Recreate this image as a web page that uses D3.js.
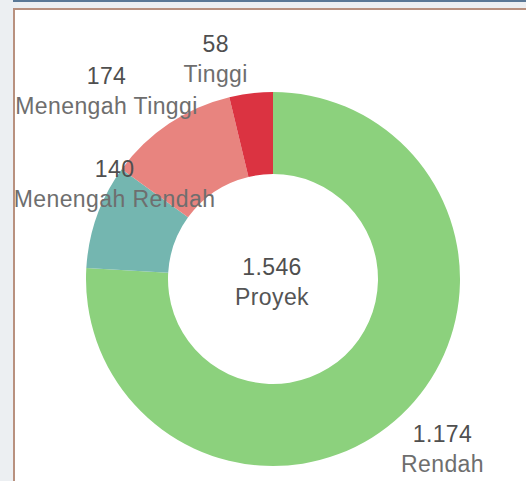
<!DOCTYPE html>
<html>
<head>
<meta charset="utf-8">
<script src="https://cdn.jsdelivr.net/npm/d3@7"></script>
<style>
  html, body { margin: 0; padding: 0; background: #eceff2; }
  #chart { width: 526px; height: 481px; }
  text { font-family: "Liberation Sans", Arial, sans-serif; font-size: 23px; letter-spacing: 0.4px; }
</style>
</head>
<body>
<div id="chart"></div>
<script>
// data
var categories = ["Rendah", "Menengah Rendah", "Menengah Tinggi", "Tinggi"];
var values = [1174, 140, 174, 58];
var colors = ["#8cd17d", "#74b6b0", "#e8847f", "#db3341"];
var totalLabel = "Proyek";

var width = 526, height = 481;
var cx = 273, cy = 279;
var outerR = 187, innerR = 105;

// nudges so labels sit where tableau put them
var labelShift = {
    "Rendah": [22, 22],
    "Menengah Rendah": [44, -15],
    "Menengah Tinggi": [-47, -1],
    "Tinggi": [-32, 2]
};

var fmt = d3.formatLocale({ decimal: ",", thousands: ".", grouping: [3], currency: ["", ""] }).format(",d");

var svg = d3.select("#chart").append("svg")
    .attr("width", width)
    .attr("height", height);

// frame
svg.append("rect").attr("x", 13).attr("y", 0).attr("width", width - 13).attr("height", 2).attr("fill", "#5a7896");
svg.append("rect").attr("x", 13).attr("y", 8).attr("width", width - 13).attr("height", height - 8).attr("fill", "#ffffff");

var data = categories.map(function (c, i) {
    return { name: c, value: values[i], color: colors[i] };
});

var pie = d3.pie()
    .sort(null)
    .value(function (d) { return d.value; });

var arc = d3.arc()
    .innerRadius(innerR)
    .outerRadius(outerR);

var labelArc = d3.arc()
    .innerRadius(215)
    .outerRadius(215);

var g = svg.append("g")
    .attr("transform", "translate(" + cx + "," + cy + ")");

var arcs = pie(data);

g.selectAll(".slice")
    .data(arcs)
    .enter()
    .append("path")
    .attr("class", "slice")
    .attr("d", arc)
    .attr("fill", function (d) { return d.data.color; });

var labels = g.selectAll(".lbl")
    .data(arcs)
    .enter()
    .append("g")
    .attr("class", "lbl")
    .attr("transform", function (d) {
        var p = labelArc.centroid(d);
        var s = labelShift[d.data.name];
        return "translate(" + (p[0] + s[0]) + "," + (p[1] + s[1]) + ")";
    });

labels.append("text")
    .attr("y", -15)
    .attr("text-anchor", "middle")
    .attr("fill", "#4f4f4f")
    .text(function (d) { return fmt(d.data.value); });

labels.append("text")
    .attr("y", 15)
    .attr("text-anchor", "middle")
    .attr("fill", "#6e6e6e")
    .text(function (d) { return d.data.name; });

// centre total
var total = d3.sum(values);
g.append("text")
    .attr("x", -1)
    .attr("y", -4)
    .attr("text-anchor", "middle")
    .attr("fill", "#4f4f4f")
    .text(fmt(total));

g.append("text")
    .attr("x", -1)
    .attr("y", 26)
    .attr("text-anchor", "middle")
    .attr("fill", "#555555")
    .text(totalLabel);

// frame border on top so labels that touch it sit under the line
svg.append("rect").attr("x", 13).attr("y", 8).attr("width", width - 13).attr("height", 2).attr("fill", "#b8917f");
svg.append("rect").attr("x", 13).attr("y", 8).attr("width", 2).attr("height", height - 8).attr("fill", "#b8917f");
</script>
</body>
</html>
